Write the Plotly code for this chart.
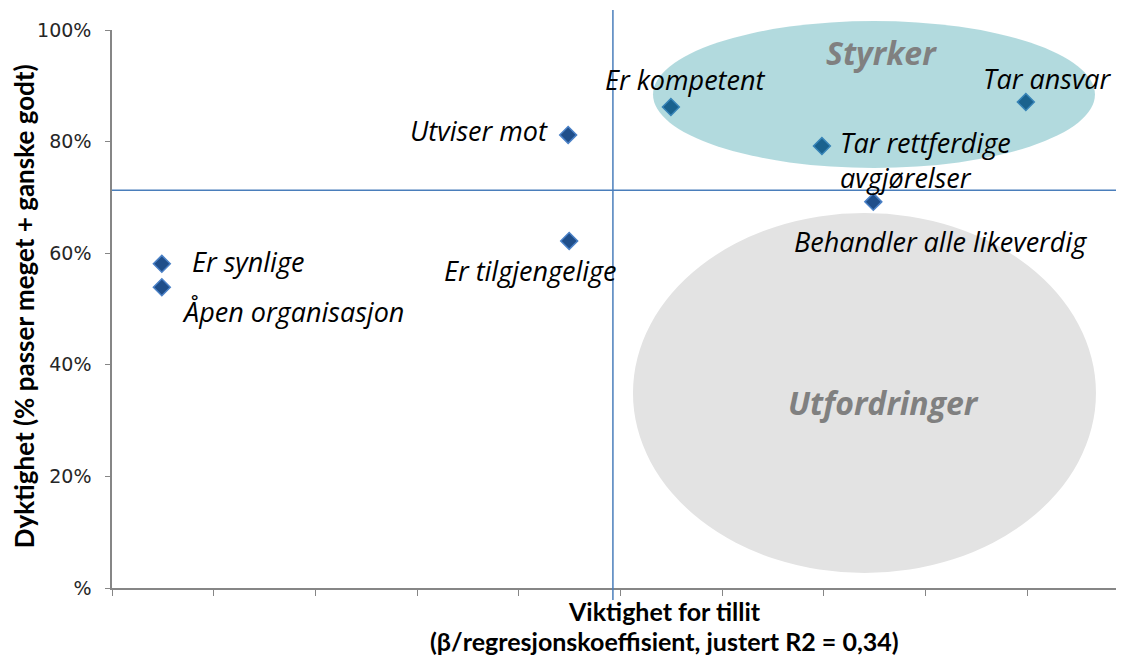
import plotly.graph_objects as go

# ---- data ----
labels = ["Er synlige", "Åpen organisasjon", "Utviser mot", "Er tilgjengelige",
          "Er kompetent", "Tar rettferdige|avgjørelser", "Behandler alle likeverdig", "Tar ansvar"]
importance = [0.0098, 0.0098, 0.0897, 0.0899, 0.1099, 0.1396, 0.1497, 0.1797]
ability = [0.581, 0.539, 0.812, 0.622, 0.862, 0.792, 0.692, 0.871]
x_ref = 0.0985
y_ref = 0.713
x_ticks = [0, 0.02, 0.04, 0.06, 0.08, 0.10, 0.12, 0.14, 0.16, 0.18]
y_ticks = [0, 0.2, 0.4, 0.6, 0.8, 1.0]
y_ticktext = ["%", "20%", "40%", "60%", "80%", "100%"]
zone_names = ["Styrker", "Utfordringer"]
x_title = ["Viktighet for tillit", "(β/regresjonskoeffisient, justert R2 = 0,34)"]
y_title = "Dyktighet (% passer meget + ganske godt)"

# ---- styling ----
X_RANGE = [0, 0.199]
LABEL_FONT = dict(family="Open Sans", size=27, color="black")
# per label: anchor, xshift, [yshift per line]
label_pos = {
    "Er synlige": ("left", 28, [2]),
    "Åpen organisasjon": ("left", 18, [-24]),
    "Utviser mot": ("right", -18, [4]),
    "Er tilgjengelige": ("center", -39, [-30]),
    "Er kompetent": ("center", 15, [28]),
    "Tar rettferdige|avgjørelser": ("left", 16, [4, -31]),
    "Behandler alle likeverdig": ("center", 67, [-40]),
    "Tar ansvar": ("center", 22, [23]),
}

fig = go.Figure()
fig.add_trace(go.Scatter(
    x=importance, y=ability, mode="markers",
    marker=dict(symbol="diamond", size=13, color="#1f4e8a",
                line=dict(color="#4a80c6", width=1.5)),
    hovertext=[l.replace("|", " ") for l in labels], hoverinfo="text",
    showlegend=False, cliponaxis=False,
))

def xp(v):
    return (v - X_RANGE[0]) / (X_RANGE[1] - X_RANGE[0])

shapes = [
    dict(type="circle", xref="paper", yref="paper", x0=0.5148, x1=0.9723, y0=0.0269, y1=0.672,
         fillcolor="#e3e3e3", line=dict(width=0), layer="below"),
    dict(type="circle", xref="paper", yref="paper", x0=0.5346, x1=0.9713, y0=0.7527, y1=1.0161,
         fillcolor="rgba(15,141,152,0.32)", line=dict(width=0), layer="above"),
    dict(type="line", xref="x", yref="y", x0=0, x1=0.1978, y0=y_ref, y1=y_ref,
         line=dict(color="#4a7ebb", width=1.5), layer="above"),
    dict(type="line", xref="paper", yref="paper", x0=xp(x_ref), x1=xp(x_ref), y0=-0.0215, y1=1.036,
         line=dict(color="#4a7ebb", width=1.5), layer="above"),
]

annotations = []
for lab, xv, yv in zip(labels, importance, ability):
    anchor, xs, yss = label_pos[lab]
    for line, ys in zip(lab.split("|"), yss):
        annotations.append(dict(x=xv, y=yv, xref="x", yref="y", text="<i>%s</i>" % line,
                                showarrow=False, xanchor=anchor, yanchor="middle",
                                xshift=xs, yshift=ys, font=LABEL_FONT))

zone_pos = [(0.760, 0.959), (0.762, 0.333)]
for name, (px, py) in zip(zone_names, zone_pos):
    annotations.append(dict(x=px, y=py, xref="paper", yref="paper", text="<b><i>%s</i></b>" % name,
                            showarrow=False, xanchor="center", yanchor="middle",
                            font=dict(family="Open Sans", size=32, color="#808080")))

for t, py in zip(x_title, [-0.0412, -0.095]):
    annotations.append(dict(x=0.5464, y=py, xref="paper", yref="paper", text="<b>%s</b>" % t,
                            showarrow=False, xanchor="center", yanchor="middle",
                            font=dict(family="Lato", size=25, color="black")))
annotations.append(dict(x=-0.087, y=0.505, xref="paper", yref="paper", text="<b>%s</b>" % y_title,
                        textangle=-90, showarrow=False, xanchor="center", yanchor="middle",
                        font=dict(family="Lato", size=26, color="black")))

# page body adds an 8px offset; margins compensate so the plot area sits at x 112..1124, y 30..588
fig.update_layout(
    width=1124, height=659,
    margin=dict(l=104, r=8, t=22, b=79),
    paper_bgcolor="white", plot_bgcolor="rgba(0,0,0,0)",
    shapes=shapes, annotations=annotations,
    xaxis=dict(range=X_RANGE, tickvals=x_ticks, showticklabels=False, ticks="outside",
               ticklen=6, tickcolor="#868686", tickwidth=1, showline=True, linecolor="#868686",
               linewidth=1.5, showgrid=False, zeroline=False, fixedrange=True, automargin=False),
    yaxis=dict(range=[0, 1], tickvals=y_ticks, ticktext=y_ticktext, ticks="outside",
               ticklen=5, tickcolor="#868686", showline=True, linecolor="#868686", linewidth=1.5,
               showgrid=False, zeroline=False, ticklabelstandoff=10, automargin=False,
               tickfont=dict(family="DejaVu Sans", size=19, color="#262626")),
    hovermode="closest",
)

fig.write_html("out.html")
